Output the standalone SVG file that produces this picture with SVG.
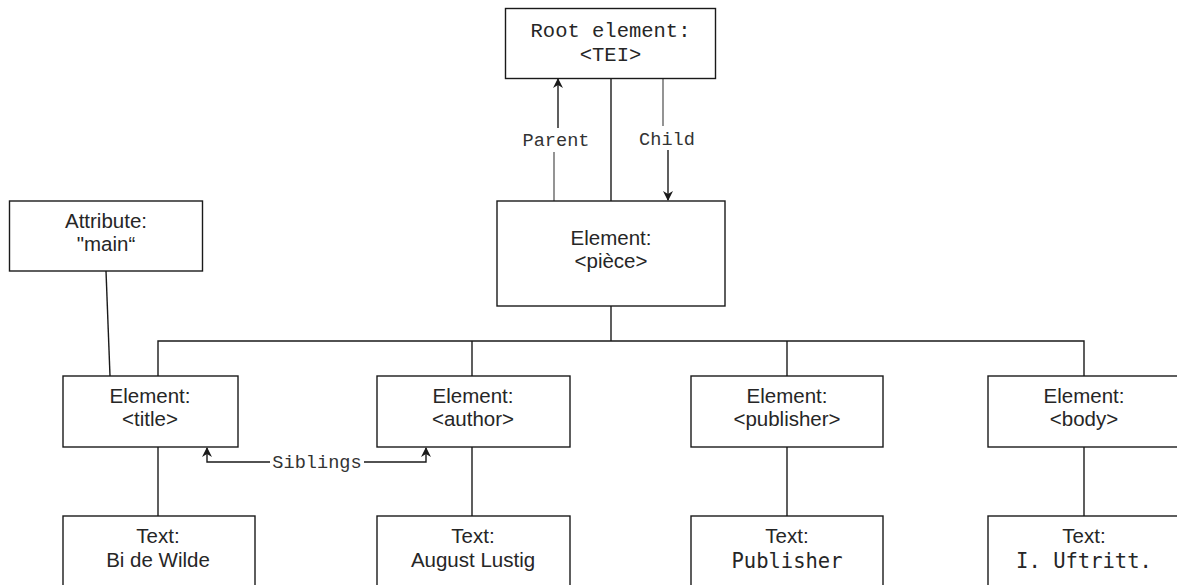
<svg xmlns="http://www.w3.org/2000/svg" width="1177" height="585" viewBox="0 0 1177 585">
<style>
.box{fill:#fff;stroke:#1a1a1a;stroke-width:1.4}
.s{font-family:"Liberation Sans",Arial,sans-serif;font-size:20.5px;fill:#262626;text-anchor:middle}
.m{font-family:"Liberation Mono","Courier New",monospace;font-size:20.5px;fill:#262626;text-anchor:middle}
.dm{font-family:"DejaVu Sans Mono",monospace;font-size:20.5px;fill:#262626;text-anchor:middle}
.ln{fill:none;stroke:#1a1a1a;stroke-width:1.4}
.gl{fill:none;stroke:#666;stroke-width:1.4}
.lbl{font-family:"Liberation Mono","Courier New",monospace;font-size:18.6px;fill:#333;text-anchor:middle}
</style>
<defs>
<marker id="ah" viewBox="0 0 10 10" refX="9" refY="5" markerWidth="11" markerHeight="10" orient="auto" markerUnits="userSpaceOnUse">
<path d="M0,0 L10,5 L0,10 L3,5 Z" fill="#1a1a1a"/>
</marker>
</defs>
<rect width="1177" height="585" fill="#fff"/>
<g id="connectors">
<line class="ln" x1="611" y1="78" x2="611" y2="201"/>
<line class="ln" x1="611" y1="306" x2="611" y2="341"/>
<polyline class="ln" points="158,376 158,341 1084,341 1084,376"/>
<line class="ln" x1="472" y1="341" x2="472" y2="376"/>
<line class="ln" x1="787" y1="341" x2="787" y2="376"/>
<line class="ln" x1="158" y1="447" x2="158" y2="516"/>
<line class="ln" x1="472" y1="447" x2="472" y2="516"/>
<line class="ln" x1="787" y1="447" x2="787" y2="516"/>
<line class="ln" x1="1084" y1="447" x2="1084" y2="516"/>
<line class="ln" x1="106" y1="271" x2="110" y2="376"/>
<line class="gl" x1="554" y1="201" x2="554" y2="152"/>
<line class="ln" x1="558" y1="128" x2="558" y2="79" marker-end="url(#ah)"/>
<text class="lbl" x="556" y="146">Parent</text>
<line class="gl" x1="663" y1="78" x2="663" y2="126"/>
<line class="ln" x1="668" y1="150" x2="668" y2="200" marker-end="url(#ah)"/>
<text class="lbl" x="667" y="145">Child</text>
<polyline class="ln" points="270,462 207,462 207,448" marker-end="url(#ah)"/>
<polyline class="ln" points="364,462 426,462 426,448" marker-end="url(#ah)"/>
<text class="lbl" x="317" y="468">Siblings</text>
</g>
<g id="root"><rect class="box" x="505.5" y="8.5" width="210" height="70"/>
<text class="m" x="610.5" y="36.5">Root element:</text><text class="m" x="610.5" y="61">&lt;TEI&gt;</text></g>
<g id="piece"><rect class="box" x="497" y="201" width="228" height="105"/>
<text class="s" x="611" y="245">Element:</text><text class="s" x="611" y="268">&lt;pièce&gt;</text></g>
<g id="attribute"><rect class="box" x="9.5" y="201" width="193" height="70"/>
<text class="s" x="106" y="228">Attribute:</text><text class="s" x="106" y="251">"main“</text></g>
<g id="title"><rect class="box" x="63" y="376" width="175" height="71"/>
<text class="s" x="150" y="403">Element:</text><text class="s" x="150" y="426">&lt;title&gt;</text></g>
<g id="author"><rect class="box" x="377" y="376" width="193" height="71"/>
<text class="s" x="473" y="403">Element:</text><text class="s" x="473" y="426">&lt;author&gt;</text></g>
<g id="publisher"><rect class="box" x="691" y="376" width="192" height="71"/>
<text class="s" x="787" y="403">Element:</text><text class="s" x="787" y="426">&lt;publisher&gt;</text></g>
<g id="body"><rect class="box" x="988" y="376" width="200" height="71"/>
<text class="s" x="1084" y="403">Element:</text><text class="s" x="1084" y="426">&lt;body&gt;</text></g>
<g id="text-title"><rect class="box" x="63" y="516" width="192" height="80"/>
<text class="s" x="158" y="543">Text:</text><text class="s" x="158" y="567">Bi de Wilde</text></g>
<g id="text-author"><rect class="box" x="377" y="516" width="193" height="80"/>
<text class="s" x="473" y="543">Text:</text><text class="s" x="473" y="567">August Lustig</text></g>
<g id="text-publisher"><rect class="box" x="691" y="516" width="192" height="80"/>
<text class="s" x="787" y="543">Text:</text><text class="dm" x="787" y="568">Publisher</text></g>
<g id="text-body"><rect class="box" x="988" y="516" width="200" height="80"/>
<text class="s" x="1084" y="543">Text:</text><text class="dm" x="1084" y="568">I. Uftritt.</text></g>
</svg>
